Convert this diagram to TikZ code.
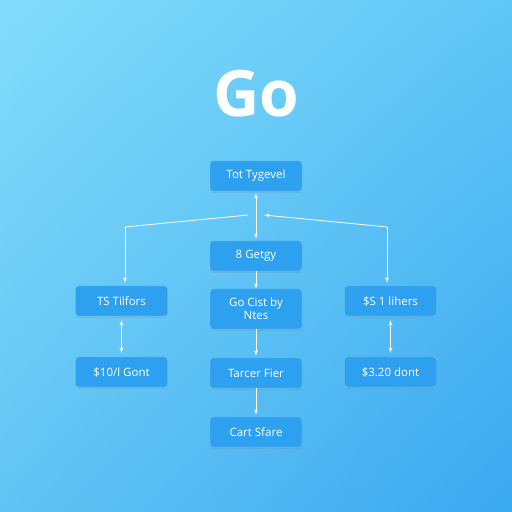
\documentclass[tikz,border=0pt]{standalone}
\usepackage{fontspec}
\setmainfont{Open Sans}
\usetikzlibrary{shapes,arrows,calc,shadows,shadings}
\definecolor{bgtl}{RGB}{130,220,250}
\definecolor{bgtr}{RGB}{96,198,246}
\definecolor{bgbl}{RGB}{98,196,244}
\definecolor{bgbr}{RGB}{58,168,240}
\definecolor{boxfill}{RGB}{46,160,240}
\definecolor{boxedge}{RGB}{110,195,246}
\tikzstyle{line} = [draw, white, line width=0.8pt, -latex']
\tikzstyle{dline} = [draw, white, line width=0.8pt, latex'-latex']
\tikzstyle{block} = [draw=boxedge, fill=boxfill, rectangle, rounded corners=3pt, text=white, align=center, minimum width=92pt, minimum height=30pt, font=\fontsize{11.5}{13}\selectfont, drop shadow={shadow xshift=0pt, shadow yshift=-2pt, opacity=0.18}]
\tikzstyle{heading} = [text=white, font=\fontsize{64}{68}\selectfont\bfseries]

\begin{document}
\begin{tikzpicture}[x=1pt, y=1pt, node distance=80pt]
        \shade[upper left=bgtl, upper right=bgtr, lower left=bgbl, lower right=bgbr] (0,0) rectangle (512,512);
        \useasboundingbox (0,0) rectangle (512,512);
        \node[heading] (title) at (256,418) {Go};
        \node[block] (top) at (256,336) {Tot Tygevel};
        \node[block, below of=top] (getgy) {8 Getgy};
        \node[block, below of=getgy, node distance=53pt, minimum height=40pt] (cist) {Go Cist by\\Ntes};
        \node[block, below of=cist, node distance=64pt] (tarcer) {Tarcer Fier};
        \node[block, below of=tarcer, node distance=59pt] (cart) {Cart Sfare};
        \node[block] (tsleft) at (121.5,211) {TS Tilfors};
        \node[block, below of=tsleft, node distance=71pt] (gontleft) {\$10/l Gont};
        \node[block] (tsright) at (390.5,211) {\$S 1 lihers};
        \node[block, below of=tsright, node distance=71pt] (gontright) {\$3.20 dont};
        \coordinate (splitl) at (248,297);
        \coordinate (splitr) at (264,297);
        \coordinate (elbowl) at (125,285);
        \coordinate (elbowr) at (387,285);
        \path[dline] ($(top.south)+(0,-2)$) -- ($(getgy.north)+(0,2)$);
        \draw[white, line width=0.8pt] (splitl) -- (elbowl);
        \path[line] (elbowl) -- ($(elbowl |- tsleft.north)+(0,3)$);
        \draw[white, line width=0.8pt, latex'-] (splitr) -- (elbowr);
        \path[line] (elbowr) -- ($(elbowr |- tsright.north)+(0,3)$);
        \path[line] (getgy) -- (cist);
        \path[line] (cist) -- ($(tarcer.north)+(0,2)$);
        \path[line] (tarcer) -- ($(cart.north)+(0,2)$);
        \path[dline] ($(tsleft.south)+(0,-4)$) -- ($(gontleft.north)+(0,4)$);
        \path[dline] ($(tsright.south)+(0,-4)$) -- ($(gontright.north)+(0,4)$);
    \end{tikzpicture}
\end{document}
